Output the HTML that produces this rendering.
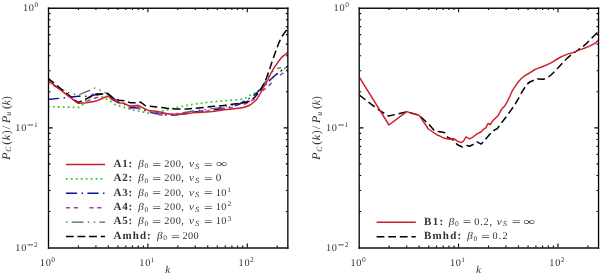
<!DOCTYPE html>
<html><head><meta charset="utf-8"><style>
html,body{margin:0;padding:0;background:#fff;}
body{width:600px;height:276px;overflow:hidden;}
svg{display:block;will-change:transform;text-rendering:geometricPrecision;}
</style></head><body>
<svg width="600" height="276" viewBox="0 0 600 276">
<rect width="600" height="276" fill="#fff"/>
<defs><clipPath id="cl"><rect x="48.5" y="8.1" width="239.4" height="239.5"/></clipPath><clipPath id="cr"><rect x="359.2" y="8.1" width="239.4" height="239.5"/></clipPath></defs>
<path d="M48.00 106.70L78.50 107.50L82.40 105.00L87.40 99.00L92.00 94.40L94.50 93.80L103.90 97.50L110.30 101.10L115.00 104.60L124.00 107.20L134.00 110.30L141.80 111.60L146.80 113.30C148.08 113.13 151.53 112.78 154.50 112.30C157.47 111.82 160.73 111.20 164.60 110.40C168.47 109.60 173.83 108.37 177.70 107.50C181.57 106.63 184.42 105.85 187.80 105.20C191.18 104.55 194.38 104.10 198.00 103.60C201.62 103.10 205.17 102.67 209.50 102.20C213.83 101.73 218.53 101.30 224.00 100.80C229.47 100.30 238.28 99.95 242.30 99.20C246.32 98.45 245.98 97.32 248.10 96.30C250.22 95.28 252.97 94.32 255.00 93.10C257.03 91.88 258.62 90.32 260.30 89.00C261.98 87.68 263.43 86.70 265.10 85.20C266.77 83.70 268.70 81.52 270.30 80.00C271.90 78.48 273.25 77.33 274.70 76.10C276.15 74.87 277.55 73.75 279.00 72.60C280.45 71.45 281.90 70.22 283.40 69.20C284.90 68.18 287.23 66.95 288.00 66.50" fill="none" stroke="#30cc30" stroke-width="1.8" stroke-dasharray="1.8 3.15" stroke-linejoin="round" clip-path="url(#cl)"/>
<path d="M48.00 83.50L55.70 86.80L69.00 92.60L78.20 95.20L89.50 90.40L94.70 88.00L99.90 90.00L104.70 92.40L109.50 95.20L113.00 98.50L118.00 101.50L124.00 103.00L130.00 106.00L138.00 106.00L145.00 109.00L150.00 111.00C151.95 111.42 157.33 113.08 161.70 113.50C166.07 113.92 170.65 113.95 176.20 113.50C181.75 113.05 189.45 111.55 195.00 110.80C200.55 110.05 204.67 109.63 209.50 109.00C214.33 108.37 218.92 107.95 224.00 107.00C229.08 106.05 235.58 104.47 240.00 103.30C244.42 102.13 247.67 101.47 250.50 100.00C253.33 98.53 255.08 96.50 257.00 94.50C258.92 92.50 260.50 90.35 262.00 88.00C263.50 85.65 264.92 82.32 266.00 80.40C267.08 78.48 267.63 77.70 268.50 76.50C269.37 75.30 270.17 74.33 271.20 73.20C272.23 72.07 273.40 70.57 274.70 69.70C276.00 68.83 277.95 68.35 279.00 68.00C280.05 67.65 280.67 67.67 281.00 67.60" fill="none" stroke="#5a5a5a" stroke-width="1.2" stroke-dasharray="1.6 4.2 11.8 4.3 1.5 4.3" stroke-linejoin="round" clip-path="url(#cl)"/>
<path d="M48.00 99.50L58.60 98.40L65.00 97.80L78.20 96.20L86.40 96.20L96.00 94.80L102.30 94.40L107.90 93.20L112.00 97.00L118.00 102.00L124.00 104.00L130.00 107.50L138.00 108.00L145.00 110.50L150.00 112.00C151.95 112.45 157.33 114.25 161.70 114.70C166.07 115.15 170.65 115.17 176.20 114.70C181.75 114.23 189.45 112.62 195.00 111.90C200.55 111.18 204.67 111.00 209.50 110.40C214.33 109.80 219.17 109.27 224.00 108.30C228.83 107.33 235.12 105.80 238.50 104.60C241.88 103.40 242.05 102.42 244.30 101.10C246.55 99.78 249.40 98.53 252.00 96.70C254.60 94.87 257.72 92.07 259.90 90.10C262.08 88.13 263.37 86.63 265.10 84.90C266.83 83.17 268.70 81.22 270.30 79.70C271.90 78.18 273.25 77.03 274.70 75.80C276.15 74.57 277.55 73.45 279.00 72.30C280.45 71.15 281.90 69.92 283.40 68.90C284.90 67.88 287.23 66.65 288.00 66.20" fill="none" stroke="#10109a" stroke-width="1.4" stroke-dasharray="11.2 4.4 1.5 4.4" stroke-linejoin="round" clip-path="url(#cl)"/>
<path d="M48.00 80.20L78.20 103.50L88.00 100.70L95.00 98.00L99.90 96.70L108.00 94.50L112.00 98.00L118.00 102.50L124.00 104.50L130.00 108.40L140.50 108.40L146.00 111.00L150.00 112.50C151.95 112.90 157.33 114.48 161.70 114.90C166.07 115.32 170.65 115.45 176.20 115.00C181.75 114.55 189.45 112.90 195.00 112.20C200.55 111.50 204.67 111.37 209.50 110.80C214.33 110.23 218.92 109.62 224.00 108.80C229.08 107.98 235.78 107.07 240.00 105.90C244.22 104.73 246.58 103.15 249.30 101.80C252.02 100.45 254.18 99.52 256.30 97.80C258.42 96.08 260.03 93.40 262.00 91.50C263.97 89.60 265.98 88.40 268.10 86.40C270.22 84.40 272.88 81.27 274.70 79.50C276.52 77.73 277.55 76.92 279.00 75.80C280.45 74.68 281.90 73.83 283.40 72.80C284.90 71.77 287.23 70.13 288.00 69.60" fill="none" stroke="#b432bc" stroke-width="1.5" stroke-dasharray="4.2 3.6 4.3 11.4" stroke-linejoin="round" clip-path="url(#cl)"/>
<path d="M48.00 78.30L78.20 102.60L86.40 98.70L92.00 96.00L96.00 94.00L102.30 94.00L108.00 93.60L112.60 97.70L119.00 100.20L125.30 100.80L130.30 102.70L135.40 102.70L140.50 102.10L145.80 106.00C147.25 106.12 151.13 106.33 154.50 106.70C157.87 107.07 162.38 107.83 166.00 108.20C169.62 108.57 172.57 108.78 176.20 108.90C179.83 109.02 184.67 109.00 187.80 108.90C190.93 108.80 191.38 108.65 195.00 108.30C198.62 107.95 204.67 107.28 209.50 106.80C214.33 106.32 218.92 106.00 224.00 105.40C229.08 104.80 236.37 103.70 240.00 103.20C243.63 102.70 244.05 102.82 245.80 102.40C247.55 101.98 248.93 101.65 250.50 100.70C252.07 99.75 254.07 97.82 255.20 96.70C256.33 95.58 256.40 95.22 257.30 94.00C258.20 92.78 259.62 90.92 260.60 89.40C261.58 87.88 262.33 86.53 263.20 84.90C264.07 83.27 265.00 81.47 265.80 79.60C266.60 77.73 267.32 75.57 268.00 73.70C268.68 71.83 269.28 70.22 269.90 68.40C270.52 66.58 271.12 64.53 271.70 62.80C272.28 61.07 272.68 60.05 273.40 58.00C274.12 55.95 275.02 53.17 276.00 50.50C276.98 47.83 278.08 44.67 279.30 42.00C280.52 39.33 281.85 36.75 283.30 34.50C284.75 32.25 287.22 29.50 288.00 28.50" fill="none" stroke="#000" stroke-width="1.5" stroke-dasharray="7.8 3.8" stroke-linejoin="round" clip-path="url(#cl)"/>
<path d="M48.00 80.50L78.20 103.30L86.40 102.70L95.50 101.30L108.00 96.00L111.30 99.00L117.70 102.70L124.00 103.40L130.30 106.50L138.00 105.30L143.00 107.80L148.70 110.60C150.38 110.80 155.42 111.23 158.80 111.80C162.18 112.37 164.88 113.63 169.00 114.00C173.12 114.37 179.17 114.23 183.50 114.00C187.83 113.77 190.67 112.95 195.00 112.60C199.33 112.25 204.67 112.38 209.50 111.90C214.33 111.42 219.17 110.30 224.00 109.70C228.83 109.10 235.00 108.75 238.50 108.30C242.00 107.85 242.92 107.67 245.00 107.00C247.08 106.33 249.05 105.60 251.00 104.30C252.95 103.00 255.22 100.92 256.70 99.20C258.18 97.48 258.72 96.03 259.90 94.00C261.08 91.97 262.50 89.33 263.80 87.00C265.10 84.67 266.62 82.08 267.70 80.00C268.78 77.92 269.28 76.43 270.30 74.50C271.32 72.57 272.63 70.28 273.80 68.40C274.97 66.52 276.07 64.93 277.30 63.20C278.53 61.47 280.00 59.37 281.20 58.00C282.40 56.63 283.37 55.95 284.50 55.00C285.63 54.05 287.42 52.75 288.00 52.30" fill="none" stroke="#cc1f26" stroke-width="1.45" stroke-linejoin="round" clip-path="url(#cl)"/>
<path d="M359.30 95.00L377.70 109.10L388.60 116.10L406.70 111.90L419.00 115.20L429.10 124.60L434.90 131.20L440.00 131.70L444.30 132.50L448.00 137.50L453.00 139.70L457.40 144.80L462.50 147.00L466.80 145.50L469.70 146.20L472.60 144.80L477.00 141.90L481.30 144.10L486.40 138.30L490.70 133.30L495.00 129.60L497.20 128.70L503.70 120.00C504.78 118.55 508.03 114.38 510.20 111.30C512.37 108.22 514.70 104.77 516.70 101.50C518.70 98.23 520.57 94.42 522.20 91.70C523.83 88.98 525.23 86.82 526.50 85.20C527.77 83.58 528.38 82.90 529.80 82.00C531.22 81.10 533.63 80.30 535.00 79.80C536.37 79.30 536.50 79.13 538.00 79.00C539.50 78.87 541.83 79.67 544.00 79.00C546.17 78.33 548.52 77.00 551.00 75.00C553.48 73.00 556.25 69.75 558.90 67.00C561.55 64.25 564.43 60.83 566.90 58.50C569.37 56.17 571.60 54.60 573.70 53.00C575.80 51.40 577.57 50.30 579.50 48.90C581.43 47.50 583.37 46.28 585.30 44.60C587.23 42.92 589.28 40.62 591.10 38.80C592.92 36.98 594.88 35.00 596.20 33.70C597.52 32.40 598.53 31.45 599.00 31.00" fill="none" stroke="#000" stroke-width="1.5" stroke-dasharray="7.8 3.8" stroke-linejoin="round" clip-path="url(#cr)"/>
<path d="M359.30 77.20L389.00 125.00L406.70 111.60L419.00 115.20L428.40 129.00L436.50 134.50L440.00 136.10L444.30 138.30L448.70 139.00L453.80 138.70L457.40 141.20L461.70 142.60L463.90 140.40L466.10 136.80L469.70 139.00L473.30 136.80L477.00 133.90L480.90 132.00L483.80 129.10L486.00 127.60L488.10 123.30L490.30 124.70L492.50 121.10L495.40 118.20L498.30 115.30L500.50 111.00L501.90 108.80L504.80 105.90L507.00 102.20L509.90 96.40C510.32 95.45 511.27 92.75 512.40 90.70C513.53 88.65 515.25 86.10 516.70 84.10C518.15 82.10 519.65 80.15 521.10 78.70C522.55 77.25 523.77 76.48 525.40 75.40C527.03 74.32 529.30 73.18 530.90 72.20C532.50 71.22 532.98 70.45 535.00 69.50C537.02 68.55 540.33 67.60 543.00 66.50C545.67 65.40 548.35 64.32 551.00 62.90C553.65 61.48 556.25 59.43 558.90 58.00C561.55 56.57 564.92 55.10 566.90 54.30C568.88 53.50 569.18 53.73 570.80 53.20C572.42 52.67 574.67 51.82 576.60 51.10C578.53 50.38 580.47 49.63 582.40 48.90C584.33 48.17 586.27 47.55 588.20 46.70C590.13 45.85 592.43 44.77 594.00 43.80C595.57 42.83 596.77 41.62 597.60 40.90C598.43 40.18 598.77 39.73 599.00 39.50" fill="none" stroke="#cc1f26" stroke-width="1.45" stroke-linejoin="round" clip-path="url(#cr)"/>
<path d="M78.42 247.60L78.42 245.60M78.42 8.10L78.42 10.10M95.92 247.60L95.92 245.60M95.92 8.10L95.92 10.10M108.34 247.60L108.34 245.60M108.34 8.10L108.34 10.10M117.97 247.60L117.97 245.60M117.97 8.10L117.97 10.10M125.84 247.60L125.84 245.60M125.84 8.10L125.84 10.10M132.49 247.60L132.49 245.60M132.49 8.10L132.49 10.10M138.26 247.60L138.26 245.60M138.26 8.10L138.26 10.10M143.34 247.60L143.34 245.60M143.34 8.10L143.34 10.10M147.89 247.60L147.89 243.40M147.89 8.10L147.89 12.30M177.81 247.60L177.81 245.60M177.81 8.10L177.81 10.10M195.31 247.60L195.31 245.60M195.31 8.10L195.31 10.10M207.73 247.60L207.73 245.60M207.73 8.10L207.73 10.10M217.36 247.60L217.36 245.60M217.36 8.10L217.36 10.10M225.23 247.60L225.23 245.60M225.23 8.10L225.23 10.10M231.88 247.60L231.88 245.60M231.88 8.10L231.88 10.10M237.64 247.60L237.64 245.60M237.64 8.10L237.64 10.10M242.73 247.60L242.73 245.60M242.73 8.10L242.73 10.10M247.28 247.60L247.28 243.40M247.28 8.10L247.28 12.30M277.19 247.60L277.19 245.60M277.19 8.10L277.19 10.10M48.50 211.55L50.50 211.55M287.85 211.55L285.85 211.55M48.50 190.46L50.50 190.46M287.85 190.46L285.85 190.46M48.50 175.50L50.50 175.50M287.85 175.50L285.85 175.50M48.50 163.90L50.50 163.90M287.85 163.90L285.85 163.90M48.50 154.42L50.50 154.42M287.85 154.42L285.85 154.42M48.50 146.40L50.50 146.40M287.85 146.40L285.85 146.40M48.50 139.45L50.50 139.45M287.85 139.45L285.85 139.45M48.50 133.33L50.50 133.33M287.85 133.33L285.85 133.33M48.50 127.85L52.70 127.85M287.85 127.85L283.65 127.85M48.50 91.80L50.50 91.80M287.85 91.80L285.85 91.80M48.50 70.71L50.50 70.71M287.85 70.71L285.85 70.71M48.50 55.75L50.50 55.75M287.85 55.75L285.85 55.75M48.50 44.15L50.50 44.15M287.85 44.15L285.85 44.15M48.50 34.67L50.50 34.67M287.85 34.67L285.85 34.67M48.50 26.65L50.50 26.65M287.85 26.65L285.85 26.65M48.50 19.70L50.50 19.70M287.85 19.70L285.85 19.70M48.50 13.58L50.50 13.58M287.85 13.58L285.85 13.58" stroke="#000" stroke-width="1.1" fill="none"/>
<path d="M47.85 8.2H288.50" stroke="#111" stroke-width="1.4" fill="none"/>
<path d="M47.85 248.0H288.50" stroke="#111" stroke-width="1.5" fill="none"/>
<path d="M48.50 7.5V248.75M287.85 7.5V248.75" stroke="#000" stroke-width="1.3" fill="none"/>
<text x="39.80" y="265.60" style="font-family:'Liberation Serif',serif;font-size:10.3px;fill:#333" textLength="10.99" lengthAdjust="spacing">10</text>
<text x="51.21" y="261.60" style="font-family:'Liberation Serif',serif;font-size:7.0px;fill:#333" textLength="3.78" lengthAdjust="spacingAndGlyphs">0</text>
<text x="139.30" y="265.60" style="font-family:'Liberation Serif',serif;font-size:10.3px;fill:#333" textLength="10.99" lengthAdjust="spacing">10</text>
<text x="150.56" y="261.60" style="font-family:'Liberation Serif',serif;font-size:7.0px;fill:#333" textLength="3.78" lengthAdjust="spacingAndGlyphs">1</text>
<text x="238.60" y="265.60" style="font-family:'Liberation Serif',serif;font-size:10.3px;fill:#333" textLength="10.99" lengthAdjust="spacing">10</text>
<text x="250.05" y="261.60" style="font-family:'Liberation Serif',serif;font-size:7.0px;fill:#333" textLength="3.78" lengthAdjust="spacingAndGlyphs">2</text>
<text x="22.90" y="11.00" style="font-family:'Liberation Serif',serif;font-size:10.3px;fill:#333" textLength="10.99" lengthAdjust="spacing">10</text>
<text x="34.46" y="7.00" style="font-family:'Liberation Serif',serif;font-size:7.0px;fill:#333" textLength="3.78" lengthAdjust="spacingAndGlyphs">0</text>
<text x="15.30" y="130.80" style="font-family:'Liberation Serif',serif;font-size:10.3px;fill:#333" textLength="10.99" lengthAdjust="spacing">10</text>
<rect x="27.50" y="124.55" width="5.6" height="0.9" fill="#3a3a3a"/>
<text x="33.95" y="126.80" style="font-family:'Liberation Serif',serif;font-size:7.0px;fill:#333" textLength="3.69" lengthAdjust="spacingAndGlyphs">1</text>
<text x="15.30" y="250.70" style="font-family:'Liberation Serif',serif;font-size:10.3px;fill:#333" textLength="10.99" lengthAdjust="spacing">10</text>
<rect x="27.50" y="244.45" width="5.6" height="0.9" fill="#3a3a3a"/>
<text x="34.10" y="246.70" style="font-family:'Liberation Serif',serif;font-size:7.0px;fill:#333" textLength="3.78" lengthAdjust="spacingAndGlyphs">2</text>
<text x="165.36" y="272.80" style="font-family:'Liberation Serif',serif;font-size:10.5px;font-style:italic;fill:#333" textLength="5.03" lengthAdjust="spacingAndGlyphs">k</text>
<g transform="translate(9.60,160.6) rotate(-90)">
<text x="0.57" y="0.00" style="font-family:'Liberation Serif',serif;font-size:11.6px;font-style:italic;fill:#333" textLength="7.65" lengthAdjust="spacingAndGlyphs">P</text>
<text x="8.78" y="1.20" style="font-family:'Liberation Serif',serif;font-size:8.0px;font-style:italic;fill:#333" textLength="5.06" lengthAdjust="spacingAndGlyphs">C</text>
<text x="15.87" y="0.00" style="font-family:'Liberation Serif',serif;font-size:11.6px;fill:#333" textLength="3.92" lengthAdjust="spacingAndGlyphs">(</text>
<text x="20.40" y="0.00" style="font-family:'Liberation Serif',serif;font-size:11.2px;font-style:italic;fill:#333" textLength="5.37" lengthAdjust="spacingAndGlyphs">k</text>
<text x="26.65" y="0.00" style="font-family:'Liberation Serif',serif;font-size:11.6px;fill:#333" textLength="3.62" lengthAdjust="spacingAndGlyphs">)</text>
<text x="31.46" y="0.00" style="font-family:'Liberation Serif',serif;font-size:11.6px;fill:#333" textLength="3.48" lengthAdjust="spacingAndGlyphs">/</text>
<text x="37.27" y="0.00" style="font-family:'Liberation Serif',serif;font-size:11.6px;font-style:italic;fill:#333" textLength="7.65" lengthAdjust="spacingAndGlyphs">P</text>
<text x="44.90" y="1.20" style="font-family:'Liberation Serif',serif;font-size:8.0px;font-style:italic;fill:#333" textLength="4.00" lengthAdjust="spacingAndGlyphs">u</text>
<text x="51.67" y="0.00" style="font-family:'Liberation Serif',serif;font-size:11.6px;fill:#333" textLength="3.92" lengthAdjust="spacingAndGlyphs">(</text>
<text x="55.36" y="0.00" style="font-family:'Liberation Serif',serif;font-size:11.2px;font-style:italic;fill:#333" textLength="5.09" lengthAdjust="spacingAndGlyphs">k</text>
<text x="60.85" y="0.00" style="font-family:'Liberation Serif',serif;font-size:11.6px;fill:#333" textLength="3.62" lengthAdjust="spacingAndGlyphs">)</text>
</g>
<path d="M389.12 247.60L389.12 245.60M389.12 8.10L389.12 10.10M406.62 247.60L406.62 245.60M406.62 8.10L406.62 10.10M419.04 247.60L419.04 245.60M419.04 8.10L419.04 10.10M428.67 247.60L428.67 245.60M428.67 8.10L428.67 10.10M436.54 247.60L436.54 245.60M436.54 8.10L436.54 10.10M443.19 247.60L443.19 245.60M443.19 8.10L443.19 10.10M448.96 247.60L448.96 245.60M448.96 8.10L448.96 10.10M454.04 247.60L454.04 245.60M454.04 8.10L454.04 10.10M458.59 247.60L458.59 243.40M458.59 8.10L458.59 12.30M488.51 247.60L488.51 245.60M488.51 8.10L488.51 10.10M506.01 247.60L506.01 245.60M506.01 8.10L506.01 10.10M518.43 247.60L518.43 245.60M518.43 8.10L518.43 10.10M528.06 247.60L528.06 245.60M528.06 8.10L528.06 10.10M535.93 247.60L535.93 245.60M535.93 8.10L535.93 10.10M542.58 247.60L542.58 245.60M542.58 8.10L542.58 10.10M548.34 247.60L548.34 245.60M548.34 8.10L548.34 10.10M553.43 247.60L553.43 245.60M553.43 8.10L553.43 10.10M557.98 247.60L557.98 243.40M557.98 8.10L557.98 12.30M587.89 247.60L587.89 245.60M587.89 8.10L587.89 10.10M359.20 211.55L361.20 211.55M598.55 211.55L596.55 211.55M359.20 190.46L361.20 190.46M598.55 190.46L596.55 190.46M359.20 175.50L361.20 175.50M598.55 175.50L596.55 175.50M359.20 163.90L361.20 163.90M598.55 163.90L596.55 163.90M359.20 154.42L361.20 154.42M598.55 154.42L596.55 154.42M359.20 146.40L361.20 146.40M598.55 146.40L596.55 146.40M359.20 139.45L361.20 139.45M598.55 139.45L596.55 139.45M359.20 133.33L361.20 133.33M598.55 133.33L596.55 133.33M359.20 127.85L363.40 127.85M598.55 127.85L594.35 127.85M359.20 91.80L361.20 91.80M598.55 91.80L596.55 91.80M359.20 70.71L361.20 70.71M598.55 70.71L596.55 70.71M359.20 55.75L361.20 55.75M598.55 55.75L596.55 55.75M359.20 44.15L361.20 44.15M598.55 44.15L596.55 44.15M359.20 34.67L361.20 34.67M598.55 34.67L596.55 34.67M359.20 26.65L361.20 26.65M598.55 26.65L596.55 26.65M359.20 19.70L361.20 19.70M598.55 19.70L596.55 19.70M359.20 13.58L361.20 13.58M598.55 13.58L596.55 13.58" stroke="#000" stroke-width="1.1" fill="none"/>
<path d="M358.55 8.2H599.20" stroke="#111" stroke-width="1.4" fill="none"/>
<path d="M358.55 248.0H599.20" stroke="#111" stroke-width="1.5" fill="none"/>
<path d="M359.20 7.5V248.75M598.55 7.5V248.75" stroke="#000" stroke-width="1.3" fill="none"/>
<text x="350.50" y="265.60" style="font-family:'Liberation Serif',serif;font-size:10.3px;fill:#333" textLength="10.99" lengthAdjust="spacing">10</text>
<text x="361.91" y="261.60" style="font-family:'Liberation Serif',serif;font-size:7.0px;fill:#333" textLength="3.78" lengthAdjust="spacingAndGlyphs">0</text>
<text x="450.00" y="265.60" style="font-family:'Liberation Serif',serif;font-size:10.3px;fill:#333" textLength="10.99" lengthAdjust="spacing">10</text>
<text x="461.26" y="261.60" style="font-family:'Liberation Serif',serif;font-size:7.0px;fill:#333" textLength="3.78" lengthAdjust="spacingAndGlyphs">1</text>
<text x="549.30" y="265.60" style="font-family:'Liberation Serif',serif;font-size:10.3px;fill:#333" textLength="10.99" lengthAdjust="spacing">10</text>
<text x="560.75" y="261.60" style="font-family:'Liberation Serif',serif;font-size:7.0px;fill:#333" textLength="3.78" lengthAdjust="spacingAndGlyphs">2</text>
<text x="333.60" y="11.00" style="font-family:'Liberation Serif',serif;font-size:10.3px;fill:#333" textLength="10.99" lengthAdjust="spacing">10</text>
<text x="345.16" y="7.00" style="font-family:'Liberation Serif',serif;font-size:7.0px;fill:#333" textLength="3.78" lengthAdjust="spacingAndGlyphs">0</text>
<text x="326.00" y="130.80" style="font-family:'Liberation Serif',serif;font-size:10.3px;fill:#333" textLength="10.99" lengthAdjust="spacing">10</text>
<rect x="338.20" y="124.55" width="5.6" height="0.9" fill="#3a3a3a"/>
<text x="344.65" y="126.80" style="font-family:'Liberation Serif',serif;font-size:7.0px;fill:#333" textLength="3.69" lengthAdjust="spacingAndGlyphs">1</text>
<text x="326.00" y="250.70" style="font-family:'Liberation Serif',serif;font-size:10.3px;fill:#333" textLength="10.99" lengthAdjust="spacing">10</text>
<rect x="338.20" y="244.45" width="5.6" height="0.9" fill="#3a3a3a"/>
<text x="344.80" y="246.70" style="font-family:'Liberation Serif',serif;font-size:7.0px;fill:#333" textLength="3.78" lengthAdjust="spacingAndGlyphs">2</text>
<text x="476.06" y="272.80" style="font-family:'Liberation Serif',serif;font-size:10.5px;font-style:italic;fill:#333" textLength="5.03" lengthAdjust="spacingAndGlyphs">k</text>
<g transform="translate(320.30,160.6) rotate(-90)">
<text x="0.57" y="0.00" style="font-family:'Liberation Serif',serif;font-size:11.6px;font-style:italic;fill:#333" textLength="7.65" lengthAdjust="spacingAndGlyphs">P</text>
<text x="8.78" y="1.20" style="font-family:'Liberation Serif',serif;font-size:8.0px;font-style:italic;fill:#333" textLength="5.06" lengthAdjust="spacingAndGlyphs">C</text>
<text x="15.87" y="0.00" style="font-family:'Liberation Serif',serif;font-size:11.6px;fill:#333" textLength="3.92" lengthAdjust="spacingAndGlyphs">(</text>
<text x="20.40" y="0.00" style="font-family:'Liberation Serif',serif;font-size:11.2px;font-style:italic;fill:#333" textLength="5.37" lengthAdjust="spacingAndGlyphs">k</text>
<text x="26.65" y="0.00" style="font-family:'Liberation Serif',serif;font-size:11.6px;fill:#333" textLength="3.62" lengthAdjust="spacingAndGlyphs">)</text>
<text x="31.46" y="0.00" style="font-family:'Liberation Serif',serif;font-size:11.6px;fill:#333" textLength="3.48" lengthAdjust="spacingAndGlyphs">/</text>
<text x="37.27" y="0.00" style="font-family:'Liberation Serif',serif;font-size:11.6px;font-style:italic;fill:#333" textLength="7.65" lengthAdjust="spacingAndGlyphs">P</text>
<text x="44.90" y="1.20" style="font-family:'Liberation Serif',serif;font-size:8.0px;font-style:italic;fill:#333" textLength="4.00" lengthAdjust="spacingAndGlyphs">u</text>
<text x="51.67" y="0.00" style="font-family:'Liberation Serif',serif;font-size:11.6px;fill:#333" textLength="3.92" lengthAdjust="spacingAndGlyphs">(</text>
<text x="55.36" y="0.00" style="font-family:'Liberation Serif',serif;font-size:11.2px;font-style:italic;fill:#333" textLength="5.09" lengthAdjust="spacingAndGlyphs">k</text>
<text x="60.85" y="0.00" style="font-family:'Liberation Serif',serif;font-size:11.6px;fill:#333" textLength="3.62" lengthAdjust="spacingAndGlyphs">)</text>
</g>
<path d="M65.90 164.40L105.10 164.40" fill="none" stroke="#cc1f26" stroke-width="1.45" stroke-linejoin="round"/>
<text x="113.59" y="166.70" style="font-family:'Liberation Serif',serif;font-size:11.0px;font-weight:bold;fill:#333" textLength="18.70" lengthAdjust="spacing">A1:</text>
<text x="138.32" y="166.70" style="font-family:'Liberation Serif',serif;font-size:10.3px;font-style:italic;fill:#333" textLength="5.54" lengthAdjust="spacingAndGlyphs">β</text>
<text x="144.61" y="168.30" style="font-family:'Liberation Serif',serif;font-size:7.0px;fill:#333" textLength="3.78" lengthAdjust="spacingAndGlyphs">0</text>
<text x="152.22" y="167.50" style="font-family:'Liberation Serif',serif;font-size:10.3px;fill:#333" textLength="8.85" lengthAdjust="spacingAndGlyphs">=</text>
<text x="164.24" y="166.70" style="font-family:'Liberation Serif',serif;font-size:10.3px;fill:#333" textLength="19.71" lengthAdjust="spacing">200,</text>
<text x="188.99" y="166.70" style="font-family:'Liberation Serif',serif;font-size:10.3px;font-style:italic;fill:#333" textLength="4.94" lengthAdjust="spacingAndGlyphs">ν</text>
<text x="194.97" y="168.60" style="font-family:'Liberation Serif',serif;font-size:7.8px;font-style:italic;fill:#333" textLength="4.21" lengthAdjust="spacingAndGlyphs">S</text>
<text x="204.14" y="167.50" style="font-family:'Liberation Serif',serif;font-size:10.3px;fill:#333" textLength="8.61" lengthAdjust="spacingAndGlyphs">=</text>
<text x="215.91" y="166.70" style="font-family:'Liberation Serif',serif;font-size:10.3px;fill:#333" textLength="11.29" lengthAdjust="spacingAndGlyphs">∞</text>
<path d="M65.90 178.82L105.10 178.82" fill="none" stroke="#30cc30" stroke-width="1.8" stroke-dasharray="1.8 3.15" stroke-linejoin="round"/>
<text x="113.59" y="181.12" style="font-family:'Liberation Serif',serif;font-size:11.0px;font-weight:bold;fill:#333" textLength="18.70" lengthAdjust="spacing">A2:</text>
<text x="138.32" y="181.12" style="font-family:'Liberation Serif',serif;font-size:10.3px;font-style:italic;fill:#333" textLength="5.54" lengthAdjust="spacingAndGlyphs">β</text>
<text x="144.61" y="182.72" style="font-family:'Liberation Serif',serif;font-size:7.0px;fill:#333" textLength="3.78" lengthAdjust="spacingAndGlyphs">0</text>
<text x="152.22" y="181.92" style="font-family:'Liberation Serif',serif;font-size:10.3px;fill:#333" textLength="8.85" lengthAdjust="spacingAndGlyphs">=</text>
<text x="164.24" y="181.12" style="font-family:'Liberation Serif',serif;font-size:10.3px;fill:#333" textLength="19.71" lengthAdjust="spacing">200,</text>
<text x="188.99" y="181.12" style="font-family:'Liberation Serif',serif;font-size:10.3px;font-style:italic;fill:#333" textLength="4.94" lengthAdjust="spacingAndGlyphs">ν</text>
<text x="194.97" y="183.02" style="font-family:'Liberation Serif',serif;font-size:7.8px;font-style:italic;fill:#333" textLength="4.21" lengthAdjust="spacingAndGlyphs">S</text>
<text x="204.14" y="181.92" style="font-family:'Liberation Serif',serif;font-size:10.3px;fill:#333" textLength="8.61" lengthAdjust="spacingAndGlyphs">=</text>
<text x="215.82" y="181.12" style="font-family:'Liberation Serif',serif;font-size:10.3px;fill:#333" textLength="5.56" lengthAdjust="spacingAndGlyphs">0</text>
<path d="M65.90 193.24L105.10 193.24" fill="none" stroke="#10109a" stroke-width="1.4" stroke-dasharray="11.2 4.4 1.5 4.4" stroke-linejoin="round"/>
<text x="113.59" y="195.54" style="font-family:'Liberation Serif',serif;font-size:11.0px;font-weight:bold;fill:#333" textLength="18.70" lengthAdjust="spacing">A3:</text>
<text x="138.32" y="195.54" style="font-family:'Liberation Serif',serif;font-size:10.3px;font-style:italic;fill:#333" textLength="5.54" lengthAdjust="spacingAndGlyphs">β</text>
<text x="144.61" y="197.14" style="font-family:'Liberation Serif',serif;font-size:7.0px;fill:#333" textLength="3.78" lengthAdjust="spacingAndGlyphs">0</text>
<text x="152.22" y="196.34" style="font-family:'Liberation Serif',serif;font-size:10.3px;fill:#333" textLength="8.85" lengthAdjust="spacingAndGlyphs">=</text>
<text x="164.24" y="195.54" style="font-family:'Liberation Serif',serif;font-size:10.3px;fill:#333" textLength="19.71" lengthAdjust="spacing">200,</text>
<text x="188.99" y="195.54" style="font-family:'Liberation Serif',serif;font-size:10.3px;font-style:italic;fill:#333" textLength="4.94" lengthAdjust="spacingAndGlyphs">ν</text>
<text x="194.97" y="197.44" style="font-family:'Liberation Serif',serif;font-size:7.8px;font-style:italic;fill:#333" textLength="4.21" lengthAdjust="spacingAndGlyphs">S</text>
<text x="204.14" y="196.34" style="font-family:'Liberation Serif',serif;font-size:10.3px;fill:#333" textLength="8.61" lengthAdjust="spacingAndGlyphs">=</text>
<text x="215.80" y="195.54" style="font-family:'Liberation Serif',serif;font-size:10.3px;fill:#333" textLength="10.49" lengthAdjust="spacing">10</text>
<text x="227.15" y="191.84" style="font-family:'Liberation Serif',serif;font-size:7.0px;fill:#333" textLength="3.69" lengthAdjust="spacingAndGlyphs">1</text>
<path d="M65.90 207.66L105.10 207.66" fill="none" stroke="#b432bc" stroke-width="1.5" stroke-dasharray="4.2 3.6 4.3 11.4" stroke-linejoin="round"/>
<text x="113.59" y="209.96" style="font-family:'Liberation Serif',serif;font-size:11.0px;font-weight:bold;fill:#333" textLength="18.70" lengthAdjust="spacing">A4:</text>
<text x="138.32" y="209.96" style="font-family:'Liberation Serif',serif;font-size:10.3px;font-style:italic;fill:#333" textLength="5.54" lengthAdjust="spacingAndGlyphs">β</text>
<text x="144.61" y="211.56" style="font-family:'Liberation Serif',serif;font-size:7.0px;fill:#333" textLength="3.78" lengthAdjust="spacingAndGlyphs">0</text>
<text x="152.22" y="210.76" style="font-family:'Liberation Serif',serif;font-size:10.3px;fill:#333" textLength="8.85" lengthAdjust="spacingAndGlyphs">=</text>
<text x="164.24" y="209.96" style="font-family:'Liberation Serif',serif;font-size:10.3px;fill:#333" textLength="19.71" lengthAdjust="spacing">200,</text>
<text x="188.99" y="209.96" style="font-family:'Liberation Serif',serif;font-size:10.3px;font-style:italic;fill:#333" textLength="4.94" lengthAdjust="spacingAndGlyphs">ν</text>
<text x="194.97" y="211.86" style="font-family:'Liberation Serif',serif;font-size:7.8px;font-style:italic;fill:#333" textLength="4.21" lengthAdjust="spacingAndGlyphs">S</text>
<text x="204.14" y="210.76" style="font-family:'Liberation Serif',serif;font-size:10.3px;fill:#333" textLength="8.61" lengthAdjust="spacingAndGlyphs">=</text>
<text x="215.80" y="209.96" style="font-family:'Liberation Serif',serif;font-size:10.3px;fill:#333" textLength="10.49" lengthAdjust="spacing">10</text>
<text x="227.55" y="206.26" style="font-family:'Liberation Serif',serif;font-size:7.0px;fill:#333" textLength="3.78" lengthAdjust="spacingAndGlyphs">2</text>
<path d="M65.90 222.08L105.10 222.08" fill="none" stroke="#5a5a5a" stroke-width="1.2" stroke-dasharray="1.6 4.2 11.8 4.3 1.5 4.3" stroke-linejoin="round"/>
<text x="113.59" y="224.38" style="font-family:'Liberation Serif',serif;font-size:11.0px;font-weight:bold;fill:#333" textLength="18.70" lengthAdjust="spacing">A5:</text>
<text x="138.32" y="224.38" style="font-family:'Liberation Serif',serif;font-size:10.3px;font-style:italic;fill:#333" textLength="5.54" lengthAdjust="spacingAndGlyphs">β</text>
<text x="144.61" y="225.98" style="font-family:'Liberation Serif',serif;font-size:7.0px;fill:#333" textLength="3.78" lengthAdjust="spacingAndGlyphs">0</text>
<text x="152.22" y="225.18" style="font-family:'Liberation Serif',serif;font-size:10.3px;fill:#333" textLength="8.85" lengthAdjust="spacingAndGlyphs">=</text>
<text x="164.24" y="224.38" style="font-family:'Liberation Serif',serif;font-size:10.3px;fill:#333" textLength="19.71" lengthAdjust="spacing">200,</text>
<text x="188.99" y="224.38" style="font-family:'Liberation Serif',serif;font-size:10.3px;font-style:italic;fill:#333" textLength="4.94" lengthAdjust="spacingAndGlyphs">ν</text>
<text x="194.97" y="226.28" style="font-family:'Liberation Serif',serif;font-size:7.8px;font-style:italic;fill:#333" textLength="4.21" lengthAdjust="spacingAndGlyphs">S</text>
<text x="204.14" y="225.18" style="font-family:'Liberation Serif',serif;font-size:10.3px;fill:#333" textLength="8.61" lengthAdjust="spacingAndGlyphs">=</text>
<text x="215.80" y="224.38" style="font-family:'Liberation Serif',serif;font-size:10.3px;fill:#333" textLength="10.49" lengthAdjust="spacing">10</text>
<text x="227.48" y="220.68" style="font-family:'Liberation Serif',serif;font-size:7.0px;fill:#333" textLength="3.78" lengthAdjust="spacingAndGlyphs">3</text>
<path d="M65.90 236.50L105.10 236.50" fill="none" stroke="#000" stroke-width="1.5" stroke-dasharray="7.8 3.8" stroke-linejoin="round"/>
<text x="113.59" y="238.80" style="font-family:'Liberation Serif',serif;font-size:11.0px;font-weight:bold;fill:#333" textLength="37.11" lengthAdjust="spacing">Amhd:</text>
<text x="157.02" y="238.80" style="font-family:'Liberation Serif',serif;font-size:10.3px;font-style:italic;fill:#333" textLength="5.54" lengthAdjust="spacingAndGlyphs">β</text>
<text x="163.31" y="240.40" style="font-family:'Liberation Serif',serif;font-size:7.0px;fill:#333" textLength="3.78" lengthAdjust="spacingAndGlyphs">0</text>
<text x="171.00" y="239.60" style="font-family:'Liberation Serif',serif;font-size:10.3px;fill:#333" textLength="8.98" lengthAdjust="spacingAndGlyphs">=</text>
<text x="182.44" y="238.80" style="font-family:'Liberation Serif',serif;font-size:10.3px;fill:#333" textLength="16.25" lengthAdjust="spacing">200</text>
<path d="M376.60 222.20L415.80 222.20" fill="none" stroke="#cc1f26" stroke-width="1.45" stroke-linejoin="round"/>
<text x="423.91" y="224.50" style="font-family:'Liberation Serif',serif;font-size:11.0px;font-weight:bold;fill:#333" textLength="19.38" lengthAdjust="spacing">B1:</text>
<text x="448.82" y="224.50" style="font-family:'Liberation Serif',serif;font-size:10.3px;font-style:italic;fill:#333" textLength="5.54" lengthAdjust="spacingAndGlyphs">β</text>
<text x="455.11" y="226.10" style="font-family:'Liberation Serif',serif;font-size:7.0px;fill:#333" textLength="3.78" lengthAdjust="spacingAndGlyphs">0</text>
<text x="462.74" y="225.30" style="font-family:'Liberation Serif',serif;font-size:10.3px;fill:#333" textLength="8.61" lengthAdjust="spacingAndGlyphs">=</text>
<text x="474.31" y="224.50" style="font-family:'Liberation Serif',serif;font-size:10.3px;fill:#333" textLength="17.73" lengthAdjust="spacing">0.2,</text>
<text x="496.69" y="224.50" style="font-family:'Liberation Serif',serif;font-size:10.3px;font-style:italic;fill:#333" textLength="4.94" lengthAdjust="spacingAndGlyphs">ν</text>
<text x="502.67" y="226.40" style="font-family:'Liberation Serif',serif;font-size:7.8px;font-style:italic;fill:#333" textLength="4.21" lengthAdjust="spacingAndGlyphs">S</text>
<text x="511.93" y="225.30" style="font-family:'Liberation Serif',serif;font-size:10.3px;fill:#333" textLength="8.73" lengthAdjust="spacingAndGlyphs">=</text>
<text x="523.38" y="224.50" style="font-family:'Liberation Serif',serif;font-size:10.3px;fill:#333" textLength="11.85" lengthAdjust="spacingAndGlyphs">∞</text>
<path d="M376.60 236.70L415.80 236.70" fill="none" stroke="#000" stroke-width="1.5" stroke-dasharray="7.8 3.8" stroke-linejoin="round"/>
<text x="423.91" y="239.00" style="font-family:'Liberation Serif',serif;font-size:11.0px;font-weight:bold;fill:#333" textLength="37.29" lengthAdjust="spacing">Bmhd:</text>
<text x="467.32" y="239.00" style="font-family:'Liberation Serif',serif;font-size:10.3px;font-style:italic;fill:#333" textLength="5.54" lengthAdjust="spacingAndGlyphs">β</text>
<text x="473.61" y="240.60" style="font-family:'Liberation Serif',serif;font-size:7.0px;fill:#333" textLength="3.78" lengthAdjust="spacingAndGlyphs">0</text>
<text x="481.00" y="239.80" style="font-family:'Liberation Serif',serif;font-size:10.3px;fill:#333" textLength="8.98" lengthAdjust="spacingAndGlyphs">=</text>
<text x="492.41" y="239.00" style="font-family:'Liberation Serif',serif;font-size:10.3px;fill:#333" textLength="15.15" lengthAdjust="spacing">0.2</text>
</svg></body></html>
